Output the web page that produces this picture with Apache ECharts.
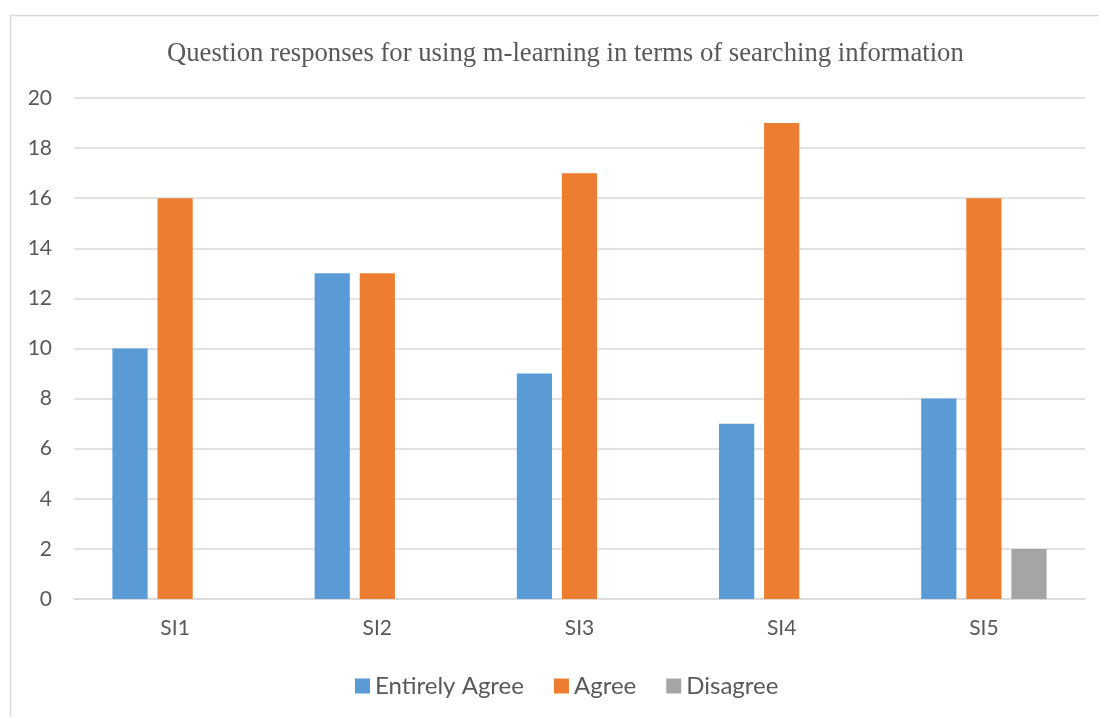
<!DOCTYPE html>
<html><head><meta charset="utf-8">
<script src="https://cdn.jsdelivr.net/npm/echarts@6/dist/echarts.min.js"></script>
<style>html,body{margin:0;padding:0;background:#fff}#c{width:1099px;height:717px}</style>
</head><body><div id="c"></div>
<script>
const categories = ['SI1','SI2','SI3','SI4','SI5'];
const entirelyAgree = [10,13,9,7,8];
const agree = [16,13,17,19,16];
const disagree = [0,0,0,0,2];
const yTicks = {min:0, max:20, interval:2};

const chart = echarts.init(document.getElementById('c'));
const axisFont = {fontFamily:'Lato', fontSize:21, color:'#595959'};
chart.setOption({
  animation:false,
  graphic:[{type:'rect', shape:{x:10.5,y:15.5,width:1200,height:800}, style:{fill:'none', stroke:'#d9d9d9', lineWidth:1.5}, z:-1}],
  title:{text:'Question responses for using m-learning in terms of searching information', left:162, top:35,
    textStyle:{fontFamily:'Liberation Serif', fontSize:26.7, fontWeight:'normal', color:'#595959'}},
  legend:{bottom:14, left:350, itemWidth:15, itemHeight:15, itemGap:30, icon:'rect',
    textStyle:{fontFamily:'Lato', fontSize:24, color:'#595959'}},
  grid:{left:74, right:14, top:98, bottom:118},
  xAxis:{type:'category', data:categories, axisTick:{show:false},
    axisLine:{lineStyle:{color:'#d9d9d9', width:1.5}},
    axisLabel:Object.assign({margin:19}, axisFont)},
  yAxis:{type:'value', min:yTicks.min, max:yTicks.max, interval:yTicks.interval,
    axisLabel:Object.assign({margin:22}, axisFont),
    splitLine:{lineStyle:{color:'#d9d9d9', width:1.5}}, axisLine:{show:false}},
  series:[
    {name:'Entirely Agree', type:'bar', data:entirelyAgree, itemStyle:{color:'#5B9BD5'}, barGap:'28%', barCategoryGap:'38%'},
    {name:'Agree', type:'bar', data:agree, itemStyle:{color:'#ED7D31'}},
    {name:'Disagree', type:'bar', data:disagree, itemStyle:{color:'#A5A5A5'}}
  ]
});
</script></body></html>
